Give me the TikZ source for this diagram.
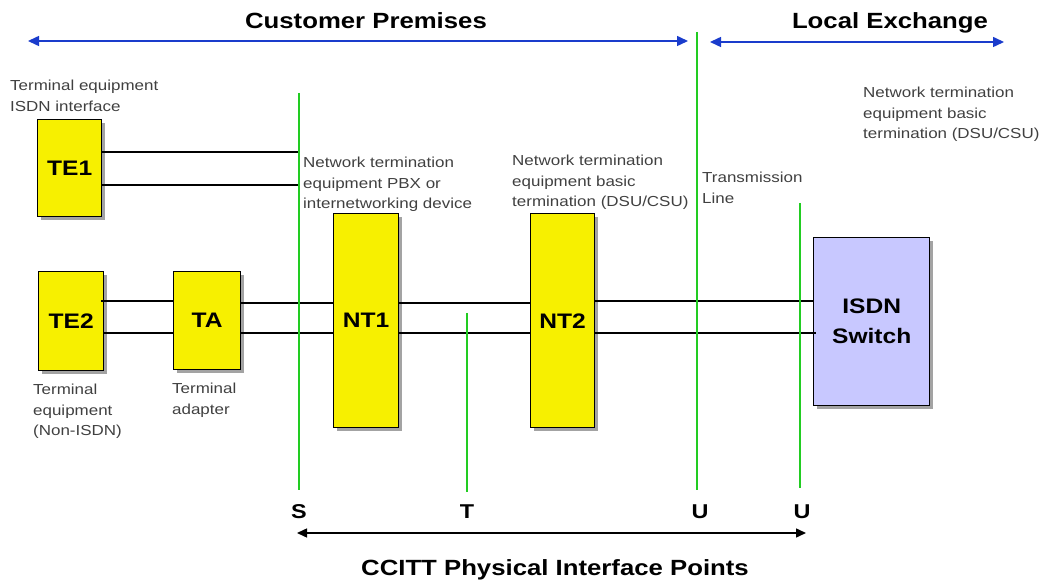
\documentclass[tikz,border=0pt]{standalone}
\usepackage{fontspec}
\setmainfont[FakeStretch=1.17]{Liberation Sans}
\usetikzlibrary{arrows.meta,shadows}
\definecolor{boxyellow}{HTML}{F7F000}
\definecolor{switchblue}{HTML}{C8C8FF}
\definecolor{ifgreen}{HTML}{22CC22}
\definecolor{arrblue}{HTML}{1A3CCC}
\definecolor{txtgray}{HTML}{404040}
\begin{document}
\begin{tikzpicture}[x=1pt,y=-1pt,
  unit/.style={draw=black,line width=1.4pt,anchor=north west,inner sep=0pt,
    font=\fontsize{21}{30}\selectfont\bfseries,align=center,
    drop shadow={shadow xshift=3.5pt,shadow yshift=-3.5pt,fill=black!45,opacity=0.8}},
  yunit/.style={unit,fill=boxyellow},
  desc/.style={anchor=north west,inner sep=0pt,align=left,text=txtgray,
    font=\fontsize{14.5}{20.5}\selectfont},
  title/.style={inner sep=0pt,font=\fontsize{22}{24}\selectfont\bfseries},
  ifline/.style={draw=ifgreen,line width=1.3pt},
  wire/.style={draw=black,line width=1.2pt},
  blarrow/.style={draw=arrblue,line width=1.5pt,{Triangle[length=11pt,width=10pt]}-{Triangle[length=11pt,width=10pt]}},
  kaarrow/.style={draw=black,line width=1.5pt,{Triangle[length=10pt,width=9pt]}-{Triangle[length=10pt,width=9pt]}},
  ptlabel/.style={inner sep=0pt,font=\fontsize{20}{22}\selectfont\bfseries}
]
\useasboundingbox (0,0) rectangle (1045,585);

% titles and range arrows
\node[title] (cp) at (366,21) {Customer Premises};
\node[title] (le) at (890,23) {Local Exchange};
\coordinate (cpL) at (28,41);
\coordinate (cpR) at (688,41);
\coordinate (leL) at (710,42);
\coordinate (leR) at (1004,42);
\draw[blarrow] (cpL) -- (cpR);
\draw[blarrow] (leL) -- (leR);

% interface lines
\coordinate (Stop) at (299,93);   \coordinate (Sbot) at (299,490);
\coordinate (Ttop) at (467,313);  \coordinate (Tbot) at (467,492);
\coordinate (Utop) at (697,32);   \coordinate (Ubot) at (697,490);
\coordinate (Vtop) at (800,203);  \coordinate (Vbot) at (800,488);

% boxes
\node[yunit,minimum width=64pt,minimum height=97pt] (TE1) at (37,119) {TE1};
\node[yunit,minimum width=65pt,minimum height=99pt] (TE2) at (38,271) {TE2};
\node[yunit,minimum width=67pt,minimum height=98pt] (TA) at (173,271) {TA};
\node[yunit,minimum width=65pt,minimum height=214pt] (NT1) at (333,213) {NT1};
\node[yunit,minimum width=64pt,minimum height=214pt] (NT2) at (530,213) {NT2};
\node[unit,fill=switchblue,minimum width=116pt,minimum height=168pt] (SW) at (813,237) {ISDN\\Switch};

% wires
\draw[wire] (TE1.east |- 0,152) -- (Stop |- 0,152);
\draw[wire] (TE1.east |- 0,185) -- (Stop |- 0,185);
\draw[wire] ([xshift=-3pt]TE2.east |- 0,301) -- (TA.west |- 0,301);
\draw[wire] (TE2.east |- 0,333) -- (TA.west |- 0,333);
\draw[wire] (TA.east |- 0,303) -- (NT1.west |- 0,303);
\draw[wire] (TA.east |- 0,333) -- (NT1.west |- 0,333);
\draw[wire] (NT1.east |- 0,303) -- (NT2.west |- 0,303);
\draw[wire] (NT1.east |- 0,333) -- (NT2.west |- 0,333);
\draw[wire] (NT2.east |- 0,301) -- (SW.west |- 0,301);
\draw[wire] (NT2.east |- 0,333) -- ([xshift=3pt]SW.west |- 0,333);

% green interface lines on top
\draw[ifline] (Stop) -- (Sbot);
\draw[ifline] (Ttop) -- (Tbot);
\draw[ifline] (Utop) -- (Ubot);
\draw[ifline] (Vtop) -- (Vbot);

% descriptions
\node[desc] (dTE1) at (10,80) {Terminal equipment\\ISDN interface};
\node[desc] (dNT1) at (303,157) {Network termination\\equipment PBX or\\internetworking device};
\node[desc] (dNT2) at (512,155) {Network termination\\equipment basic\\termination (DSU/CSU)};
\node[desc] (dTL) at (702,172) {Transmission\\Line};
\node[desc] (dLE) at (863,87) {Network termination\\equipment basic\\termination (DSU/CSU)};
\node[desc] (dTE2) at (33,384) {Terminal\\equipment\\(Non-ISDN)};
\node[desc] (dTA) at (172,383) {Terminal\\adapter};

% interface point labels
\node[ptlabel] (S) at (299,512) {S};
\node[ptlabel] (T) at (467,512) {T};
\node[ptlabel] (U1) at (700,512) {U};
\node[ptlabel] (U2) at (802,512) {U};
\coordinate (ccL) at (297,533);
\coordinate (ccR) at (806,533);
\draw[kaarrow] (ccL) -- (ccR);
\node[title] (cc) at (555,570) {CCITT Physical Interface Points};
\end{tikzpicture}
\end{document}
